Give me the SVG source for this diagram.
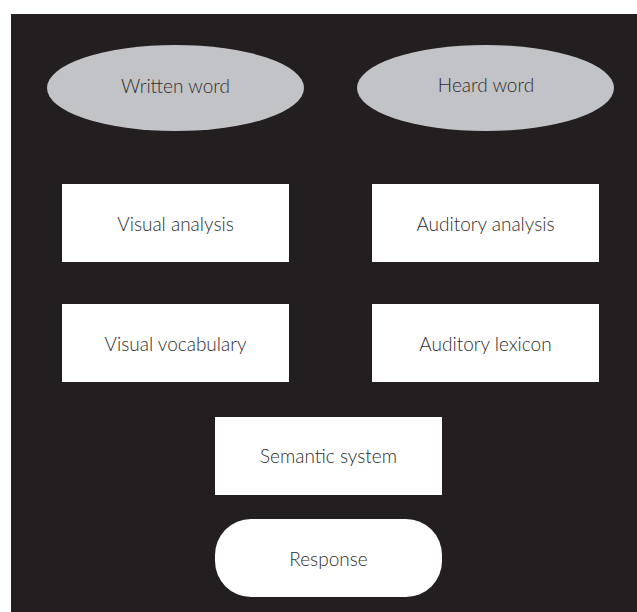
<svg xmlns="http://www.w3.org/2000/svg" width="637" height="612" viewBox="0 0 637 612">
  <style>
    .bg { fill: #231f20; }
    .oval { fill: #c2c3c6; }
    .box { fill: #ffffff; }
    .lbl { font-family: "Lato", "Liberation Sans", sans-serif; font-weight: 300; font-size: 19px; fill: #2e2b2c; text-anchor: middle; }
  </style>
  <rect class="bg" x="11" y="14" width="626" height="598"/>
  <g id="written-word">
    <ellipse class="oval" cx="175.5" cy="88" rx="128.5" ry="43"/>
    <text class="lbl" x="175.5" y="93">Written word</text>
  </g>
  <g id="heard-word">
    <ellipse class="oval" cx="485.5" cy="88" rx="128.5" ry="43"/>
    <text class="lbl" x="486" y="92">Heard word</text>
  </g>
  <g id="visual-analysis">
    <rect class="box" x="62" y="184" width="227" height="78"/>
    <text class="lbl" x="175.5" y="231">Visual analysis</text>
  </g>
  <g id="auditory-analysis">
    <rect class="box" x="372" y="184" width="227" height="78"/>
    <text class="lbl" x="485.5" y="231">Auditory analysis</text>
  </g>
  <g id="visual-vocabulary">
    <rect class="box" x="62" y="304" width="227" height="78"/>
    <text class="lbl" x="175.5" y="351">Visual vocabulary</text>
  </g>
  <g id="auditory-lexicon">
    <rect class="box" x="372" y="304" width="227" height="78"/>
    <text class="lbl" x="485.5" y="351">Auditory lexicon</text>
  </g>
  <g id="semantic-system">
    <rect class="box" x="215" y="417" width="227" height="78"/>
    <text class="lbl" x="328.5" y="463">Semantic system</text>
  </g>
  <g id="response">
    <rect class="box" x="215" y="519" width="227" height="78" rx="36" ry="36"/>
    <text class="lbl" x="328.5" y="566">Response</text>
  </g>
  <g id="connectors"></g>
</svg>
